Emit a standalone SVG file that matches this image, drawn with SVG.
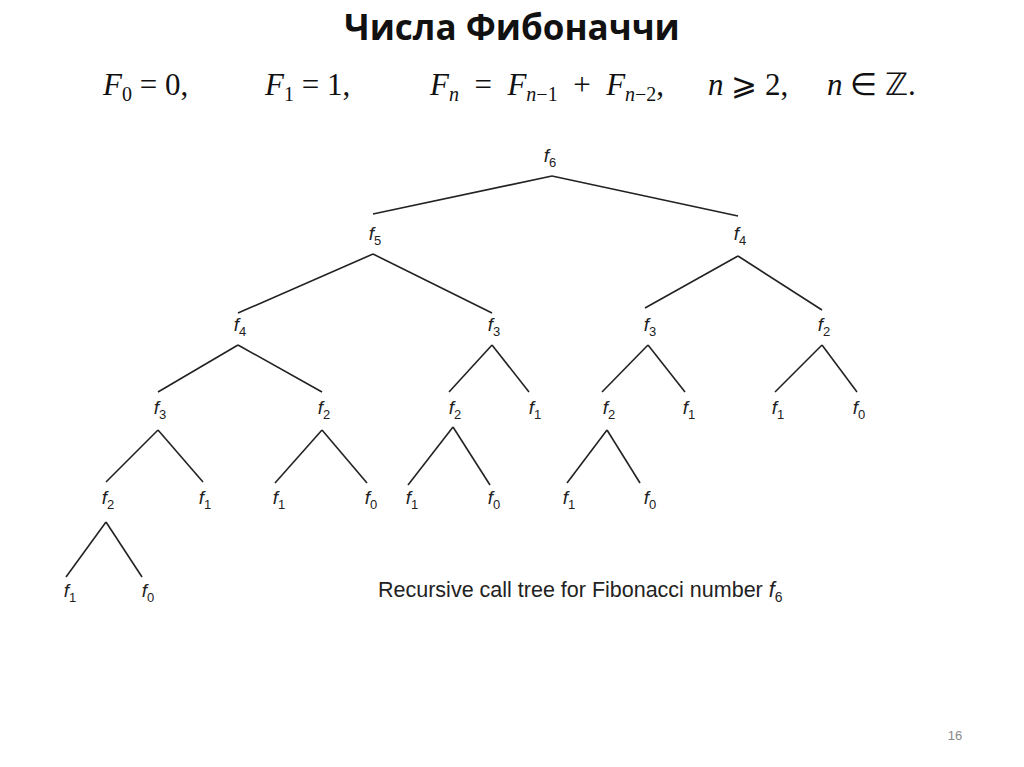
<svg xmlns="http://www.w3.org/2000/svg" width="1024" height="767" viewBox="0 0 1024 767">
<style>
.n{font-family:"Liberation Sans",Arial,sans-serif;font-size:19px;fill:#222;text-anchor:middle}
.n tspan.s{font-size:13px;font-style:normal}
.e line{stroke:#222;stroke-width:1.6}
.m{font-family:"Liberation Serif","Times New Roman",serif;font-size:31px;fill:#111}
</style>
<rect width="1024" height="767" fill="#fff"/>
<text x="512" y="40" text-anchor="middle" font-family="'Open Sans','Liberation Sans',sans-serif" font-weight="bold" font-size="35" fill="#111">Числа Фибоначчи</text>
<text class="m" y="95"><tspan x="103" font-style="italic">F</tspan><tspan font-size="20" dy="6">0</tspan><tspan dy="-6" xml:space="preserve"> = 0,</tspan><tspan x="265" font-style="italic">F</tspan><tspan font-size="20" dy="6">1</tspan><tspan dy="-6"> = 1,</tspan><tspan x="430" font-style="italic">F</tspan><tspan font-size="20" dy="6" font-style="italic">n</tspan><tspan dy="-6" xml:space="preserve">  =  </tspan><tspan font-style="italic">F</tspan><tspan font-size="20" dy="6"><tspan font-style="italic">n</tspan>−1</tspan><tspan dy="-6" xml:space="preserve">  +  </tspan><tspan font-style="italic">F</tspan><tspan font-size="20" dy="6"><tspan font-style="italic">n</tspan>−2</tspan><tspan dy="-6">,</tspan><tspan x="708" font-style="italic">n</tspan><tspan> ⩾ 2,</tspan><tspan x="827" font-style="italic">n</tspan><tspan> ∈ ℤ.</tspan></text>
<g class="e">
<line x1="552" y1="176" x2="373" y2="214"/><line x1="552" y1="176" x2="738" y2="216"/>
<line x1="373" y1="254" x2="238" y2="313"/><line x1="373" y1="254" x2="492" y2="313"/>
<line x1="738" y1="256" x2="645" y2="308"/><line x1="738" y1="256" x2="822" y2="310"/>
<line x1="238" y1="345" x2="158" y2="392"/><line x1="238" y1="345" x2="322" y2="392"/>
<line x1="492" y1="345" x2="449" y2="392"/><line x1="492" y1="345" x2="529" y2="392"/>
<line x1="648" y1="345" x2="602" y2="392"/><line x1="648" y1="345" x2="685" y2="392"/>
<line x1="822" y1="345" x2="775" y2="392"/><line x1="822" y1="345" x2="857" y2="392"/>
<line x1="158" y1="430" x2="106" y2="482"/><line x1="158" y1="430" x2="203" y2="482"/>
<line x1="322" y1="430" x2="275" y2="483"/><line x1="322" y1="430" x2="367" y2="483"/>
<line x1="453" y1="427" x2="408" y2="485"/><line x1="453" y1="427" x2="490" y2="485"/>
<line x1="607" y1="430" x2="567" y2="483"/><line x1="607" y1="430" x2="640" y2="483"/>
<line x1="106" y1="522" x2="66" y2="577"/><line x1="106" y1="522" x2="142" y2="577"/>
</g>
<g id="n6"><text class="n" x="550" y="162"><tspan font-style="italic">f</tspan><tspan class="s" dy="5">6</tspan></text></g>
<g id="n5"><text class="n" x="375" y="240"><tspan font-style="italic">f</tspan><tspan class="s" dy="5">5</tspan></text></g>
<g id="n4a"><text class="n" x="740" y="240"><tspan font-style="italic">f</tspan><tspan class="s" dy="5">4</tspan></text></g>
<g id="n4b"><text class="n" x="240" y="331"><tspan font-style="italic">f</tspan><tspan class="s" dy="5">4</tspan></text></g>
<g id="n3a"><text class="n" x="494" y="331"><tspan font-style="italic">f</tspan><tspan class="s" dy="5">3</tspan></text></g>
<g id="n3b"><text class="n" x="650" y="331"><tspan font-style="italic">f</tspan><tspan class="s" dy="5">3</tspan></text></g>
<g id="n2a"><text class="n" x="824" y="331"><tspan font-style="italic">f</tspan><tspan class="s" dy="5">2</tspan></text></g>
<g id="l4"><text class="n" x="160" y="414"><tspan font-style="italic">f</tspan><tspan class="s" dy="5">3</tspan></text>
<text class="n" x="324" y="414"><tspan font-style="italic">f</tspan><tspan class="s" dy="5">2</tspan></text>
<text class="n" x="455" y="414"><tspan font-style="italic">f</tspan><tspan class="s" dy="5">2</tspan></text>
<text class="n" x="535" y="414"><tspan font-style="italic">f</tspan><tspan class="s" dy="5">1</tspan></text>
<text class="n" x="609" y="414"><tspan font-style="italic">f</tspan><tspan class="s" dy="5">2</tspan></text>
<text class="n" x="689" y="414"><tspan font-style="italic">f</tspan><tspan class="s" dy="5">1</tspan></text>
<text class="n" x="778" y="414"><tspan font-style="italic">f</tspan><tspan class="s" dy="5">1</tspan></text>
<text class="n" x="859" y="414"><tspan font-style="italic">f</tspan><tspan class="s" dy="5">0</tspan></text></g>
<g id="l5"><text class="n" x="108" y="504"><tspan font-style="italic">f</tspan><tspan class="s" dy="5">2</tspan></text>
<text class="n" x="205" y="504"><tspan font-style="italic">f</tspan><tspan class="s" dy="5">1</tspan></text>
<text class="n" x="279" y="504"><tspan font-style="italic">f</tspan><tspan class="s" dy="5">1</tspan></text>
<text class="n" x="371" y="504"><tspan font-style="italic">f</tspan><tspan class="s" dy="5">0</tspan></text>
<text class="n" x="412" y="504"><tspan font-style="italic">f</tspan><tspan class="s" dy="5">1</tspan></text>
<text class="n" x="494" y="504"><tspan font-style="italic">f</tspan><tspan class="s" dy="5">0</tspan></text>
<text class="n" x="569" y="504"><tspan font-style="italic">f</tspan><tspan class="s" dy="5">1</tspan></text>
<text class="n" x="650" y="504"><tspan font-style="italic">f</tspan><tspan class="s" dy="5">0</tspan></text></g>
<g id="l6"><text class="n" x="70" y="597"><tspan font-style="italic">f</tspan><tspan class="s" dy="5">1</tspan></text>
<text class="n" x="148" y="597"><tspan font-style="italic">f</tspan><tspan class="s" dy="5">0</tspan></text></g>
<text x="378" y="597" font-family="'Liberation Sans',Arial,sans-serif" font-size="21.5" fill="#222">Recursive call tree for Fibonacci number <tspan font-style="italic">f</tspan><tspan font-size="14" dy="5">6</tspan></text>
<text x="955" y="740" text-anchor="middle" font-family="'Liberation Sans',Arial,sans-serif" font-size="13" fill="#888">16</text>
</svg>
